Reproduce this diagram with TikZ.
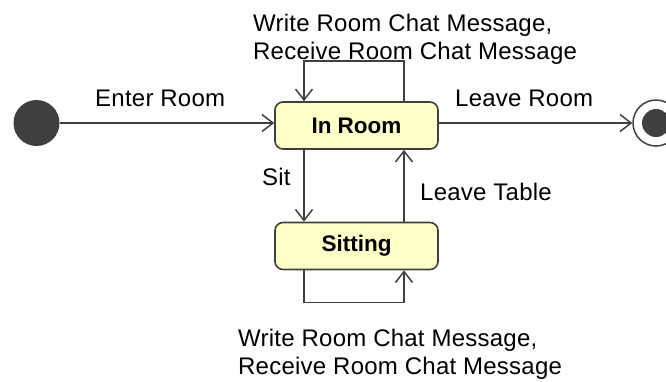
\documentclass[tikz,border=0pt]{standalone}
\usepackage{fontspec}
\setmainfont{Liberation Sans}
\newfontfamily\lblfont[LetterSpace=1.0]{Liberation Sans}
\usetikzlibrary{arrows.meta,calc}
\definecolor{linegray}{HTML}{404040}
\definecolor{statefill}{HTML}{FFFFC8}
\tikzset{
  statebox/.style={draw=linegray, line width=1.6pt, fill=statefill, rounded corners=8pt,
    minimum width=163pt, minimum height=47pt, inner sep=0pt,
    font=\fontsize{22.5}{27}\selectfont\bfseries},
  trans/.style={draw=linegray, line width=1.5pt,
    -{Straight Barb[length=11pt,width=17pt,line width=1.5pt]}},
  lbl/.style={inner sep=0pt, font=\lblfont\fontsize{24}{27.5}\selectfont, text=black},
}
\begin{document}
\begin{tikzpicture}[x=1pt,y=-1pt]
  \useasboundingbox (0,0) rectangle (666,381);

  % states
  \node[statebox] (inroom) at (356.5,125.5) {In Room};
  \node[statebox] (sitting) at (356.5,246) {Sitting};

  % pseudo states
  \node[circle, fill=linegray, minimum size=46pt, inner sep=0pt] (init) at (36.5,123) {};
  \node[circle, draw=linegray, line width=1.5pt, fill=white, minimum size=46pt, inner sep=0pt] (final) at (656,123) {};
  \node[circle, fill=linegray, minimum size=28pt, inner sep=0pt] (finaldot) at (final.center) {};

  % transitions
  \draw[trans] (init.east) -- (init.east -| inroom.west);
  \draw[trans] (inroom.east |- final.west) -- (final.west);

  \coordinate (tl) at ($(inroom.north)+(-52.5,-40)$);
  \coordinate (tr) at ($(inroom.north)+(47.5,-40)$);
  \draw[trans] ($(inroom.north)+(47.5,0)$) -- (tr) -- (tl) -- ($(inroom.north)+(-52.5,0)$);

  \draw[trans] ($(inroom.south)+(-52.5,0)$) -- ($(sitting.north)+(-52.5,0)$);
  \draw[trans] ($(sitting.north)+(47.5,0)$) -- ($(inroom.south)+(47.5,0)$);

  \coordinate (bl) at ($(sitting.south)+(-52.5,32)$);
  \coordinate (br) at ($(sitting.south)+(47.5,32)$);
  \draw[trans] ($(sitting.south)+(-52.5,0)$) -- (bl) -- (br) -- ($(sitting.south)+(47.5,0)$);

  % transition labels
  \node[lbl, anchor=base west] (lenter) at (95,106) {Enter Room};
  \node[lbl, anchor=base west] (lleave) at (455,106) {Leave Room};
  \node[lbl, anchor=base west] (lsit) at (262,185) {Sit};
  \node[lbl, anchor=base west] (ltable) at (420,200) {Leave Table};
  \node[lbl, anchor=north west, align=left] (ltop) at (253,14)
    {Write Room Chat Message,\\Receive Room Chat Message};
  \node[lbl, anchor=north west, align=left] (lbottom) at (238,329)
    {Write Room Chat Message,\\Receive Room Chat Message};
\end{tikzpicture}
\end{document}
